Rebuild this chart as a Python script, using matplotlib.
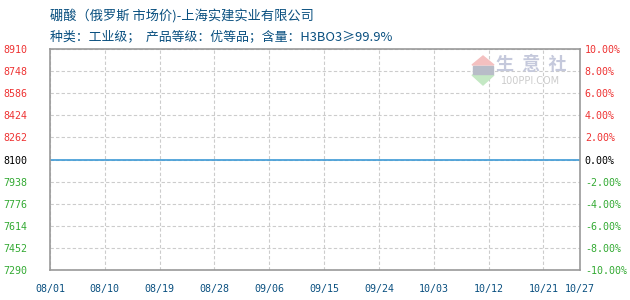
import datetime as dt

import matplotlib
matplotlib.use("Agg")
import matplotlib.pyplot as plt
from matplotlib.patches import Polygon, Rectangle

# data
dates = ["2023-08-01", "2023-10-27"]
prices = [8100, 8100]
base = 8100
left_ticks = [7290, 7452, 7614, 7776, 7938, 8100, 8262, 8424, 8586, 8748, 8910]
right_ticks = [-10, -8, -6, -4, -2, 0, 2, 4, 6, 8, 10]
x_labels = ["08/01", "08/10", "08/19", "08/28", "09/06", "09/15",
            "09/24", "10/03", "10/12", "10/21", "10/27"]

title1 = "硼酸（俄罗斯 市场价)-上海实建实业有限公司"
title2 = "种类：工业级；  产品等级：优等品；含量：H3BO3≥99.9%"

RED = "#ee3333"
GREEN = "#33aa33"
BLUE = "#0a5080"
cjk = ["Noto Sans CJK SC", "DejaVu Sans"]
mono = "DejaVu Sans Mono"

def tick_color(v, mid):
  if v > mid:
    return RED
  if v < mid:
    return GREEN
  return "black"

x = [dt.datetime.strptime(d, "%Y-%m-%d") for d in dates]

fig = plt.figure(figsize=(6.3, 3.0), dpi=100)
ax = fig.add_axes([50/630, 30/300, 530/630, 221/300])

ax.plot(x, prices, color="#3d9ad6", lw=1.2)

ax.set_xlim(x[0], x[-1])
ax.set_ylim(left_ticks[0], left_ticks[-1])
ax.set_yticks(left_ticks)
ax.set_yticklabels([str(v) for v in left_ticks], family=mono, fontsize=7.2)
for lab, v in zip(ax.get_yticklabels(), left_ticks):
  lab.set_color(tick_color(v, base))

xt = [dt.datetime.strptime("2023/" + s, "%Y/%m/%d") for s in x_labels]
ax.set_xticks(xt)
ax.set_xticklabels(x_labels, family=mono, fontsize=7.2, color=BLUE)
ax.tick_params(axis="both", length=0)
ax.tick_params(axis="x", pad=10)
ax.tick_params(axis="y", pad=16)

ax.grid(True, color="#cccccc", ls=(0, (3, 2)), lw=0.8)
for s in ax.spines.values():
  s.set_color("#999999")
  s.set_linewidth(1.2)

ax2 = ax.twinx()
ax2.set_ylim(right_ticks[0], right_ticks[-1])
ax2.set_yticks(right_ticks)
ax2.set_yticklabels(["%.2f%%" % v for v in right_ticks], family=mono, fontsize=7.2)
for lab, v in zip(ax2.get_yticklabels(), right_ticks):
  lab.set_color(tick_color(v, 0))
ax2.tick_params(length=0, pad=3.5)
for s in ax2.spines.values():
  s.set_visible(False)

# watermark
fig.text(531/630, 1 - 65/300, "生  意  社", family=cjk, fontsize=13, color="#c5c9dc",
         ha="center", va="center", fontweight="bold")
fig.text(531/630, 1 - 81/300, "100PPI.COM", family="DejaVu Sans", fontsize=7, color="#cccccc",
         ha="center", va="center")
fig.patches.append(Polygon([[472/630, 1 - 65/300], [494/630, 1 - 65/300], [483/630, 1 - 56/300]],
                           closed=True, transform=fig.transFigure, color="#f4c0c0"))
fig.patches.append(Polygon([[472/630, 1 - 75/300], [494/630, 1 - 75/300], [483/630, 1 - 85/300]],
                           closed=True, transform=fig.transFigure, color="#c4e8c4"))
fig.patches.append(Rectangle((473/630, 1 - 74/300), 20/630, 8/300,
                             transform=fig.transFigure, color="#b8bcc8"))

fig.text(50/630, 1 - 16/300, title1, family=cjk, fontsize=9.5, color=BLUE, va="center")
fig.text(50/630, 1 - 37/300, title2, family=cjk, fontsize=9.3, color=BLUE, va="center")

fig.savefig("out.png", dpi=100)
